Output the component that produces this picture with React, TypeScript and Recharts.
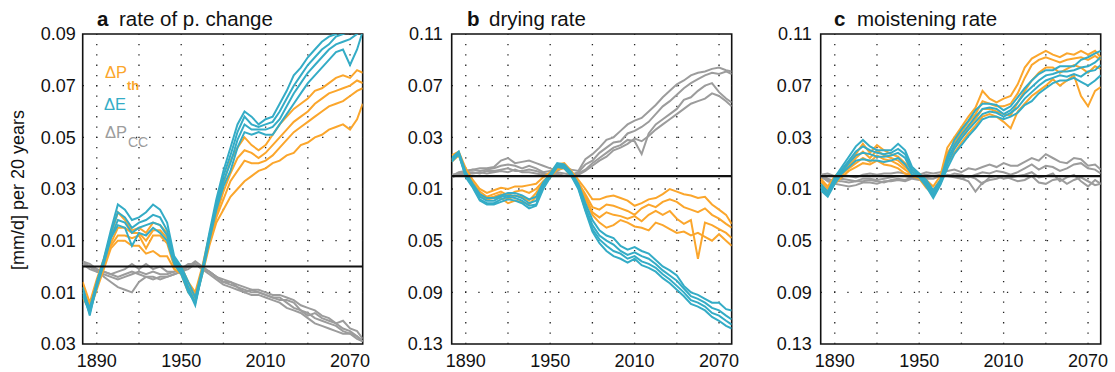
import React from 'react'
import { LineChart, Line, XAxis, YAxis, ReferenceLine, ReferenceArea } from 'recharts'

const ORANGE = '#fba62c'
const TEAL = '#34acc6'
const GRAY = '#9c9c9c'
const FONT = '"Liberation Sans", Arial, Helvetica, sans-serif'

const years = [
  1880, 1885, 1890, 1895, 1900, 1905, 1910, 1915, 1920, 1925,
  1930, 1935, 1940, 1945, 1950, 1955, 1960, 1965, 1970, 1975,
  1980, 1985, 1990, 1995, 2000, 2005, 2010, 2015, 2020, 2025,
  2030, 2035, 2040, 2045, 2050, 2055, 2060, 2065, 2070, 2075,
  2079,
]
const tickYears = [1890, 1950, 2010, 2070]
const gridYears = [1890, 1920, 1950, 1980, 2010, 2040, 2070]
const rateTicks = [-0.03, -0.01, 0.01, 0.03, 0.05, 0.07, 0.09]
const wideTicks = [-0.13, -0.09, -0.05, -0.01, 0.03, 0.07, 0.11]

// a: rate of precipitation change
const rateTh1 = [
  -0.006, -0.014, -0.005, 0.003, 0.012, 0.021, 0.018, 0.014, 0.015, 0.013,
  0.017, 0.016, 0.013, 0.003, 0.000, -0.006, -0.010, 0.000, 0.012, 0.022,
  0.032, 0.041, 0.046, 0.050, 0.047, 0.045, 0.047, 0.051, 0.055, 0.058,
  0.061, 0.063, 0.065, 0.068, 0.069, 0.071, 0.073, 0.074, 0.073, 0.076,
  0.075,
]
const rateTh2 = [
  -0.008, -0.016, -0.007, 0.001, 0.009, 0.015, 0.015, 0.013, 0.013, 0.010,
  0.014, 0.014, 0.011, 0.001, -0.001, -0.008, -0.011, -0.001, 0.010, 0.020,
  0.029, 0.036, 0.042, 0.045, 0.044, 0.042, 0.044, 0.047, 0.050, 0.053,
  0.056, 0.058, 0.060, 0.063, 0.065, 0.067, 0.068, 0.069, 0.070, 0.072,
  0.071,
]
const rateTh3 = [
  -0.010, -0.015, -0.008, 0.000, 0.008, 0.012, 0.012, 0.011, 0.012, 0.007,
  0.012, 0.012, 0.009, 0.000, -0.002, -0.009, -0.012, -0.002, 0.009, 0.019,
  0.026, 0.033, 0.037, 0.041, 0.040, 0.040, 0.041, 0.043, 0.046, 0.049,
  0.052, 0.054, 0.056, 0.058, 0.060, 0.062, 0.063, 0.064, 0.066, 0.068,
  0.069,
]
const rateTh4 = [
  -0.012, -0.017, -0.009, -0.001, 0.007, 0.010, 0.010, 0.008, 0.008, 0.005,
  0.006, 0.004, 0.004, -0.001, -0.003, -0.010, -0.013, -0.003, 0.008, 0.017,
  0.022, 0.027, 0.030, 0.033, 0.035, 0.037, 0.038, 0.040, 0.041, 0.043,
  0.044, 0.047, 0.048, 0.050, 0.051, 0.053, 0.054, 0.055, 0.053, 0.057,
  0.063,
]
const rateE1 = [
  -0.008, -0.017, -0.006, 0.003, 0.014, 0.024, 0.022, 0.018, 0.019, 0.021,
  0.024, 0.022, 0.017, 0.004, 0.000, -0.006, -0.012, -0.001, 0.013, 0.026,
  0.037, 0.046, 0.055, 0.060, 0.058, 0.055, 0.057, 0.058, 0.063, 0.068,
  0.074, 0.077, 0.081, 0.084, 0.087, 0.089, 0.090, 0.092, 0.093, 0.094,
  0.095,
]
const rateE2 = [
  -0.009, -0.019, -0.007, 0.002, 0.013, 0.021, 0.019, 0.015, 0.017, 0.018,
  0.020, 0.019, 0.014, 0.003, -0.001, -0.008, -0.014, -0.002, 0.012, 0.024,
  0.035, 0.043, 0.052, 0.058, 0.055, 0.054, 0.055, 0.056, 0.060, 0.065,
  0.070, 0.074, 0.078, 0.081, 0.084, 0.086, 0.089, 0.090, 0.091, 0.092,
  0.094,
]
const rateE3 = [
  -0.011, -0.018, -0.008, 0.001, 0.011, 0.018, 0.017, 0.013, 0.015, 0.016,
  0.017, 0.016, 0.012, 0.002, -0.002, -0.009, -0.015, -0.002, 0.011, 0.023,
  0.033, 0.040, 0.049, 0.055, 0.053, 0.053, 0.053, 0.054, 0.057, 0.062,
  0.067, 0.071, 0.075, 0.078, 0.081, 0.084, 0.086, 0.087, 0.088, 0.090,
  0.092,
]
const rateE4 = [
  -0.010, -0.016, -0.007, 0.002, 0.011, 0.016, 0.015, 0.008, 0.013, 0.012,
  0.015, 0.013, 0.010, 0.001, -0.003, -0.010, -0.014, -0.003, 0.010, 0.022,
  0.031, 0.037, 0.046, 0.052, 0.051, 0.052, 0.051, 0.051, 0.055, 0.059,
  0.063, 0.067, 0.071, 0.074, 0.077, 0.080, 0.083, 0.084, 0.078, 0.084,
  0.091,
]
const rateCc1 = [
  0.002, 0.001, -0.001, -0.002, -0.003, -0.002, -0.001, 0.001, -0.001, 0.001,
  -0.001, 0.000, -0.002, -0.002, -0.001, 0.001, 0.001, -0.001, -0.002, -0.004,
  -0.006, -0.006, -0.007, -0.008, -0.009, -0.009, -0.010, -0.011, -0.011, -0.012,
  -0.013, -0.015, -0.016, -0.017, -0.019, -0.020, -0.022, -0.021, -0.024, -0.025,
  -0.028,
]
const rateCc2 = [
  0.001, 0.000, -0.002, -0.003, -0.004, -0.005, -0.004, -0.003, -0.002, -0.003,
  -0.002, -0.003, -0.003, -0.002, -0.001, 0.000, 0.002, 0.000, -0.002, -0.004,
  -0.006, -0.007, -0.008, -0.010, -0.009, -0.010, -0.011, -0.012, -0.013, -0.013,
  -0.014, -0.017, -0.019, -0.018, -0.020, -0.021, -0.022, -0.024, -0.025, -0.027,
  -0.029,
]
const rateCc3 = [
  0.002, 0.000, -0.001, -0.004, -0.006, -0.008, -0.009, -0.010, -0.006, -0.004,
  -0.004, -0.005, -0.004, -0.003, -0.002, -0.001, 0.001, -0.001, -0.003, -0.005,
  -0.007, -0.008, -0.009, -0.010, -0.011, -0.011, -0.012, -0.013, -0.014, -0.016,
  -0.017, -0.018, -0.020, -0.022, -0.023, -0.024, -0.025, -0.026, -0.026, -0.028,
  -0.029,
]
const rateCc4 = [
  0.001, -0.001, -0.002, -0.002, -0.003, -0.004, -0.003, -0.002, -0.003, -0.004,
  -0.005, -0.004, -0.004, -0.003, -0.002, 0.000, 0.001, -0.001, -0.002, -0.004,
  -0.005, -0.006, -0.008, -0.009, -0.010, -0.010, -0.011, -0.012, -0.012, -0.014,
  -0.016, -0.017, -0.018, -0.020, -0.021, -0.022, -0.023, -0.025, -0.026, -0.027,
  -0.029,
]

// b: drying rate
const dryTh1 = [
  0.016, 0.019, 0.006, -0.003, -0.010, -0.013, -0.011, -0.009, -0.010, -0.008,
  -0.008, -0.007, -0.006, -0.001, 0.003, 0.009, 0.010, 0.004, -0.003, -0.010,
  -0.018, -0.018, -0.016, -0.015, -0.017, -0.019, -0.023, -0.021, -0.018, -0.017,
  -0.014, -0.010, -0.012, -0.014, -0.015, -0.017, -0.016, -0.022, -0.026, -0.030,
  -0.037,
]
const dryTh2 = [
  0.013, 0.017, 0.004, -0.005, -0.012, -0.016, -0.014, -0.012, -0.015, -0.012,
  -0.011, -0.013, -0.010, -0.004, 0.001, 0.007, 0.008, 0.002, -0.005, -0.014,
  -0.024, -0.026, -0.022, -0.023, -0.025, -0.027, -0.030, -0.025, -0.022, -0.024,
  -0.020, -0.018, -0.020, -0.024, -0.026, -0.028, -0.025, -0.030, -0.033, -0.037,
  -0.040,
]
const dryTh3 = [
  0.012, 0.018, 0.003, -0.006, -0.014, -0.017, -0.016, -0.014, -0.018, -0.015,
  -0.016, -0.019, -0.013, -0.005, 0.000, 0.006, 0.007, 0.001, -0.006, -0.016,
  -0.028, -0.032, -0.028, -0.030, -0.031, -0.033, -0.031, -0.035, -0.030, -0.027,
  -0.030, -0.027, -0.033, -0.037, -0.034, -0.064, -0.036, -0.038, -0.041, -0.044,
  -0.048,
]
const dryTh4 = [
  0.011, 0.016, 0.002, -0.006, -0.015, -0.018, -0.017, -0.017, -0.021, -0.019,
  -0.020, -0.022, -0.016, -0.007, -0.001, 0.005, 0.006, 0.000, -0.007, -0.018,
  -0.030, -0.036, -0.040, -0.038, -0.034, -0.036, -0.039, -0.040, -0.042, -0.036,
  -0.038, -0.041, -0.044, -0.043, -0.046, -0.044, -0.047, -0.050, -0.045, -0.050,
  -0.054,
]
const dryE1 = [
  0.014, 0.019, 0.003, -0.006, -0.014, -0.017, -0.017, -0.015, -0.013, -0.013,
  -0.015, -0.018, -0.016, -0.005, 0.002, 0.010, 0.009, 0.003, -0.006, -0.021,
  -0.034, -0.042, -0.046, -0.048, -0.054, -0.057, -0.055, -0.058, -0.060, -0.065,
  -0.070, -0.073, -0.077, -0.085, -0.090, -0.092, -0.095, -0.098, -0.098, -0.103,
  -0.104,
]
const dryE2 = [
  0.013, 0.018, 0.002, -0.007, -0.016, -0.019, -0.019, -0.016, -0.015, -0.015,
  -0.017, -0.021, -0.019, -0.007, 0.001, 0.009, 0.008, 0.002, -0.008, -0.024,
  -0.038, -0.046, -0.050, -0.053, -0.058, -0.061, -0.059, -0.062, -0.064, -0.068,
  -0.073, -0.077, -0.081, -0.087, -0.093, -0.095, -0.098, -0.102, -0.104, -0.108,
  -0.111,
]
const dryE3 = [
  0.012, 0.017, 0.000, -0.008, -0.018, -0.021, -0.021, -0.018, -0.016, -0.017,
  -0.019, -0.023, -0.022, -0.008, 0.000, 0.008, 0.007, 0.001, -0.009, -0.026,
  -0.041, -0.049, -0.054, -0.058, -0.060, -0.064, -0.062, -0.066, -0.068, -0.071,
  -0.076, -0.080, -0.085, -0.090, -0.096, -0.098, -0.101, -0.106, -0.108, -0.112,
  -0.115,
]
const dryE4 = [
  0.011, 0.017, -0.001, -0.009, -0.019, -0.022, -0.022, -0.020, -0.018, -0.019,
  -0.021, -0.025, -0.023, -0.010, -0.001, 0.007, 0.006, 0.000, -0.010, -0.027,
  -0.043, -0.052, -0.058, -0.062, -0.064, -0.067, -0.064, -0.069, -0.071, -0.074,
  -0.079, -0.083, -0.088, -0.093, -0.099, -0.101, -0.104, -0.109, -0.112, -0.116,
  -0.118,
]
const dryCc1 = [
  0.000, 0.003, 0.004, 0.005, 0.006, 0.006, 0.007, 0.012, 0.014, 0.010,
  0.011, 0.012, 0.010, 0.008, 0.006, 0.004, 0.007, 0.005, 0.004, 0.013,
  0.017, 0.022, 0.028, 0.030, 0.035, 0.040, 0.043, 0.045, 0.050, 0.055,
  0.061, 0.066, 0.071, 0.074, 0.078, 0.080, 0.081, 0.083, 0.084, 0.082,
  0.081,
]
const dryCc2 = [
  0.001, 0.002, 0.004, 0.005, 0.004, 0.005, 0.006, 0.008, 0.009, 0.008,
  0.006, 0.008, 0.006, 0.003, 0.004, 0.003, 0.002, 0.001, 0.003, 0.009,
  0.012, 0.018, 0.022, 0.026, 0.027, 0.033, 0.035, 0.038, 0.042, 0.048,
  0.054, 0.058, 0.063, 0.068, 0.072, 0.075, 0.078, 0.080, 0.079, 0.081,
  0.079,
]
const dryCc3 = [
  -0.001, 0.001, 0.003, 0.003, 0.002, 0.004, 0.004, 0.005, 0.006, 0.004,
  0.004, 0.005, 0.004, 0.002, 0.001, 0.002, 0.000, 0.000, 0.002, 0.005,
  0.010, 0.014, 0.018, 0.022, 0.024, 0.028, 0.027, 0.017, 0.033, 0.040,
  0.044, 0.048, 0.052, 0.059, 0.061, 0.066, 0.070, 0.072, 0.065, 0.060,
  0.057,
]
const dryCc4 = [
  0.000, 0.001, 0.002, 0.002, 0.003, 0.002, 0.003, 0.004, 0.003, 0.005,
  0.003, 0.003, 0.002, 0.001, 0.000, 0.001, 0.000, 0.000, 0.001, 0.004,
  0.008, 0.012, 0.015, 0.020, 0.022, 0.025, 0.029, 0.027, 0.031, 0.036,
  0.040, 0.044, 0.048, 0.052, 0.056, 0.058, 0.060, 0.064, 0.062, 0.058,
  0.054,
]

// c: moistening rate
const moistTh1 = [
  -0.002, -0.008, 0.000, 0.005, 0.010, 0.017, 0.025, 0.018, 0.024, 0.020,
  0.017, 0.015, 0.010, 0.005, 0.002, -0.003, -0.008, 0.000, 0.022, 0.030,
  0.038, 0.046, 0.053, 0.066, 0.060, 0.057, 0.060, 0.062, 0.071, 0.084,
  0.091, 0.094, 0.097, 0.094, 0.092, 0.095, 0.094, 0.097, 0.094, 0.097,
  0.092,
]
const moistTh2 = [
  -0.004, -0.010, -0.002, 0.003, 0.008, 0.014, 0.019, 0.014, 0.020, 0.016,
  0.014, 0.012, 0.007, 0.003, 0.001, -0.005, -0.011, -0.003, 0.018, 0.026,
  0.034, 0.042, 0.048, 0.058, 0.056, 0.054, 0.054, 0.056, 0.064, 0.076,
  0.086, 0.090, 0.092, 0.090, 0.088, 0.090, 0.091, 0.092, 0.090, 0.093,
  0.090,
]
const moistTh3 = [
  -0.006, -0.012, -0.004, 0.001, 0.006, 0.010, 0.014, 0.011, 0.016, 0.013,
  0.012, 0.009, 0.005, 0.001, -0.001, -0.007, -0.012, -0.004, 0.014, 0.022,
  0.030, 0.038, 0.044, 0.052, 0.052, 0.050, 0.048, 0.047, 0.057, 0.066,
  0.074, 0.080, 0.084, 0.084, 0.080, 0.083, 0.086, 0.084, 0.080, 0.085,
  0.083,
]
const moistTh4 = [
  -0.008, -0.013, -0.006, -0.001, 0.004, 0.007, 0.010, 0.009, 0.012, 0.009,
  0.008, 0.006, 0.002, 0.000, -0.002, -0.009, -0.014, -0.006, 0.010, 0.018,
  0.026, 0.033, 0.039, 0.046, 0.048, 0.046, 0.042, 0.037, 0.050, 0.056,
  0.062, 0.066, 0.070, 0.075, 0.070, 0.074, 0.078, 0.062, 0.054, 0.066,
  0.069,
]
const moistE1 = [
  -0.006, -0.012, -0.001, 0.007, 0.015, 0.023, 0.028, 0.023, 0.020, 0.020,
  0.020, 0.025, 0.020, 0.007, 0.002, -0.003, -0.011, -0.003, 0.015, 0.028,
  0.036, 0.043, 0.051, 0.056, 0.056, 0.055, 0.051, 0.054, 0.061, 0.068,
  0.074, 0.079, 0.082, 0.082, 0.085, 0.085, 0.085, 0.090, 0.092, 0.095,
  0.097,
]
const moistE2 = [
  -0.008, -0.014, -0.003, 0.005, 0.012, 0.019, 0.023, 0.020, 0.018, 0.017,
  0.018, 0.021, 0.017, 0.005, 0.001, -0.005, -0.013, -0.005, 0.012, 0.024,
  0.032, 0.039, 0.046, 0.052, 0.053, 0.052, 0.048, 0.051, 0.057, 0.064,
  0.069, 0.074, 0.078, 0.079, 0.081, 0.081, 0.082, 0.084, 0.085, 0.088,
  0.092,
]
const moistE3 = [
  -0.009, -0.015, -0.004, 0.003, 0.010, 0.016, 0.018, 0.017, 0.015, 0.015,
  0.016, 0.018, 0.014, 0.003, 0.000, -0.007, -0.015, -0.006, 0.009, 0.021,
  0.029, 0.036, 0.042, 0.048, 0.050, 0.049, 0.046, 0.049, 0.053, 0.060,
  0.065, 0.070, 0.074, 0.076, 0.078, 0.077, 0.079, 0.077, 0.081, 0.082,
  0.086,
]
const moistE4 = [
  -0.011, -0.016, -0.006, 0.002, 0.007, 0.012, 0.013, 0.012, 0.012, 0.011,
  0.012, 0.014, 0.009, 0.001, -0.001, -0.008, -0.017, -0.007, 0.006, 0.017,
  0.024, 0.031, 0.037, 0.044, 0.046, 0.046, 0.044, 0.046, 0.049, 0.055,
  0.058, 0.064, 0.068, 0.072, 0.074, 0.074, 0.076, 0.073, 0.070, 0.074,
  0.078,
]
const moistCc1 = [
  0.001, 0.002, 0.000, 0.001, 0.000, -0.001, 0.001, 0.002, 0.001, 0.002,
  0.002, 0.003, 0.002, 0.001, 0.001, 0.003, 0.002, 0.003, 0.004, 0.005,
  0.003, 0.006, 0.005, 0.007, 0.009, 0.007, 0.010, 0.008, 0.008, 0.011,
  0.014, 0.012, 0.017, 0.014, 0.011, 0.010, 0.014, 0.013, 0.008, 0.009,
  0.005,
]
const moistCc2 = [
  -0.001, -0.003, -0.003, -0.002, -0.003, -0.004, -0.002, -0.002, -0.003, -0.002,
  -0.001, 0.000, 0.000, -0.001, 0.000, 0.001, 0.000, 0.001, 0.000, 0.002,
  0.001, -0.001, 0.001, 0.003, 0.002, 0.004, 0.003, 0.001, 0.003, 0.006,
  0.009, 0.005, 0.008, 0.007, 0.004, 0.006, 0.009, 0.010, 0.006, 0.005,
  0.002,
]
const moistCc3 = [
  0.000, -0.004, -0.006, -0.007, -0.008, -0.007, -0.005, -0.005, -0.006, -0.004,
  -0.004, -0.003, -0.004, -0.002, -0.003, -0.002, -0.002, 0.000, 0.000, -0.001,
  -0.002, 0.000, -0.002, -0.006, -0.001, 0.000, -0.002, -0.001, 0.000, 0.001,
  0.003, -0.001, 0.000, 0.002, -0.004, -0.001, 0.001, -0.004, -0.008, -0.003,
  -0.006,
]
const moistCc4 = [
  0.001, -0.002, -0.004, -0.004, -0.005, -0.004, -0.004, -0.003, -0.004, -0.005,
  -0.003, -0.002, -0.003, -0.001, -0.002, -0.001, 0.000, -0.001, 0.001, 0.000,
  -0.002, -0.004, -0.012, -0.005, -0.003, -0.002, 0.000, -0.002, -0.004, -0.003,
  0.000, -0.005, -0.006, -0.003, -0.002, -0.006, -0.003, -0.001, -0.004, -0.007,
  -0.006,
]

function toRows(th: number[][], e: number[][], cc: number[][]) {
  return years.map((year, i) => {
    const row: Record<string, number> = { year }
    th.forEach((s, k) => (row['th' + k] = s[i]))
    e.forEach((s, k) => (row['e' + k] = s[i]))
    cc.forEach((s, k) => (row['cc' + k] = s[i]))
    return row
  })
}

interface PanelProps {
  left: number
  width: number
  marginLeft: number
  marginRight: number
  domain: [number, number]
  ticks: number[]
  labelGap: number
  th: number[][]
  e: number[][]
  cc: number[][]
}

const tickStyle = { fontSize: 18, fill: '#111', fontFamily: FONT }

function Panel({ left, width, marginLeft, marginRight, domain, ticks, labelGap, th, e, cc }: PanelProps) {
  const data = toRows(th, e, cc)
  return (
    <div style={{ position: 'absolute', left, top: 0 }}>
      <LineChart
        width={width}
        height={372}
        data={data}
        margin={{ top: 34, right: marginRight, bottom: 0, left: marginLeft }}
      >
        <XAxis
          dataKey="year"
          type="number"
          domain={[1880, 2079]}
          ticks={tickYears}
          interval={0}
          allowDataOverflow
          axisLine={false}
          tickLine={false}
          tickSize={6}
          tickMargin={4}
          height={28}
          tick={tickStyle}
        />
        <YAxis
          type="number"
          domain={domain}
          ticks={ticks}
          interval={0}
          allowDataOverflow
          width={60}
          axisLine={false}
          tickLine={false}
          tickSize={4}
          tickMargin={labelGap - 4}
          tick={tickStyle}
          tickFormatter={(v: number) => Math.abs(v).toFixed(2)}
        />
        {ticks.slice(1, -1).map((t) => (
          <ReferenceLine key={'h' + t} y={t} stroke="#222" strokeWidth={1.3} strokeDasharray="1.3 12" />
        ))}
        {gridYears.map((yr) => (
          <ReferenceLine key={'v' + yr} x={yr} stroke="#222" strokeWidth={1.3} strokeDasharray="1.3 9" />
        ))}
        {cc.map((_, k) => (
          <Line key={'cc' + k} type="linear" dataKey={'cc' + k} stroke={GRAY} strokeWidth={2}
            dot={false} isAnimationActive={false} />
        ))}
        {th.map((_, k) => (
          <Line key={'th' + k} type="linear" dataKey={'th' + k} stroke={ORANGE} strokeWidth={2}
            dot={false} isAnimationActive={false} />
        ))}
        {e.map((_, k) => (
          <Line key={'e' + k} type="linear" dataKey={'e' + k} stroke={TEAL} strokeWidth={2}
            dot={false} isAnimationActive={false} />
        ))}
        <ReferenceLine y={0} stroke="#111" strokeWidth={2.2} />
        <ReferenceArea x1={1880} x2={2079} y1={domain[0]} y2={domain[1]}
          fill="none" stroke="#111" strokeWidth={1.6} />
      </LineChart>
    </div>
  )
}

export default function App() {
  return (
    <div style={{ position: 'absolute', left: 0, top: 0, width: 1115, height: 372, background: '#fff' }}>
      <Panel left={0} width={370} marginLeft={22.7} marginRight={7.3} domain={[-0.03, 0.09]} ticks={rateTicks}
        labelGap={7} th={[rateTh1, rateTh2, rateTh3, rateTh4]} e={[rateE1, rateE2, rateE3, rateE4]}
        cc={[rateCc1, rateCc2, rateCc3, rateCc4]} />
      <Panel left={370} width={370} marginLeft={21.7} marginRight={8.3} domain={[-0.13, 0.11]} ticks={wideTicks}
        labelGap={9} th={[dryTh1, dryTh2, dryTh3, dryTh4]} e={[dryE1, dryE2, dryE3, dryE4]}
        cc={[dryCc1, dryCc2, dryCc3, dryCc4]} />
      <Panel left={740} width={375} marginLeft={20.7} marginRight={14.3} domain={[-0.13, 0.11]} ticks={wideTicks}
        labelGap={9} th={[moistTh1, moistTh2, moistTh3, moistTh4]} e={[moistE1, moistE2, moistE3, moistE4]}
        cc={[moistCc1, moistCc2, moistCc3, moistCc4]} />
      <svg width={1115} height={372} style={{ position: 'absolute', left: 0, top: 0, pointerEvents: 'none' }}
        fontFamily={FONT}>
        <text x={97} y={26} fontSize={20.5} fill="#111">
          <tspan fontWeight="bold">a</tspan>
          <tspan x={119}>rate of p. change</tspan>
        </text>
        <text x={467} y={26} fontSize={20.5} fill="#111">
          <tspan fontWeight="bold">b</tspan>
          <tspan x={489}>drying rate</tspan>
        </text>
        <text x={834} y={26} fontSize={20.5} fill="#111">
          <tspan fontWeight="bold">c</tspan>
          <tspan x={857}>moistening rate</tspan>
        </text>
        <text transform="translate(24,190) rotate(-90)" textAnchor="middle" fontSize={18} fill="#111">
          [mm/d] per 20 years
        </text>
        <text x={105} y={78} fontSize={16.5} fill={ORANGE}>ΔP</text>
        <text x={127} y={90} fontSize={13} fontWeight="bold" fill={ORANGE}>th</text>
        <text x={104} y={110} fontSize={16.5} fill={TEAL}>ΔE</text>
        <text x={105} y={138} fontSize={16.5} fill={GRAY}>ΔP</text>
        <text x={128} y={147} fontSize={14} fill={GRAY}>CC</text>
      </svg>
    </div>
  )
}
